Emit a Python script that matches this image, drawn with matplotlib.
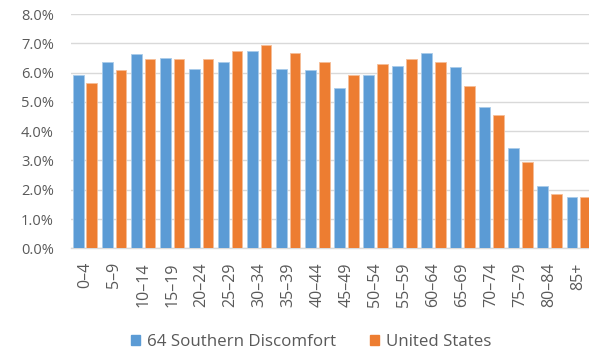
import matplotlib
matplotlib.use("Agg")
import matplotlib.pyplot as plt
import numpy as np
from matplotlib.ticker import FuncFormatter
from matplotlib.patches import Patch

categories = ["0–4", "5–9", "10–14", "15–19", "20–24", "25–29", "30–34", "35–39",
              "40–44", "45–49", "50–54", "55–59", "60–64", "65–69", "70–74",
              "75–79", "80–84", "85+"]
southern = [5.91, 6.35, 6.62, 6.51, 6.12, 6.35, 6.73, 6.12, 6.08, 5.47, 5.91,
            6.23, 6.67, 6.18, 4.82, 3.42, 2.13, 1.74]
usa = [5.63, 6.08, 6.45, 6.45, 6.45, 6.73, 6.94, 6.67, 6.35, 5.91, 6.29,
       6.45, 6.35, 5.53, 4.56, 2.94, 1.85, 1.74]
series_names = ["64 Southern Discomfort", "United States"]
yticks = [0, 1, 2, 3, 4, 5, 6, 7, 8]

plt.rcParams['font.family'] = ['Open Sans', 'DejaVu Sans']
blue = "#5B9BD5"
orange = "#ED7D31"
txt = "#595959"

fig = plt.figure(figsize=(5.89, 3.52), dpi=100)
W, H = 589, 352
left_px, right_px = 70.5, 70.5 + 18 * 29.04
top_px, bot_px = 14.0, 248.3
ax = fig.add_axes([left_px / W, 1 - bot_px / H, (right_px - left_px) / W, (bot_px - top_px) / H])

x = np.arange(len(categories))
bw = 0.37
ax.bar(x - 0.235, southern, bw, color=blue, edgecolor="#A9CBEA", linewidth=0.6, zorder=3)
ax.bar(x + 0.235, usa, bw, color=orange, edgecolor="#F6BE98", linewidth=0.6, zorder=3)

ax.set_xlim(-0.5, len(categories) - 0.5)
ax.set_ylim(0, 8)
ax.set_yticks(yticks)
ax.yaxis.set_major_formatter(FuncFormatter(lambda v, p: f"{v:.1f}%"))
ax.set_xticks(x)
ax.set_xticklabels(categories, rotation=90, fontsize=11.5)
ax.grid(axis='y', color="#D9D9D9", linewidth=1.0, zorder=0)
for s in ["top", "right", "left"]:
    ax.spines[s].set_visible(False)
ax.spines["bottom"].set_color("#D9D9D9")
ax.spines["bottom"].set_linewidth(1.0)
ax.tick_params(axis='both', length=0, colors=txt)
ax.tick_params(axis='y', labelsize=10.5, pad=12)
ax.tick_params(axis='x', pad=10)

handles = [Patch(color=blue, label=series_names[0]), Patch(color=orange, label=series_names[1])]
fig.legend(handles=handles, loc="center", bbox_to_anchor=(311 / W, 1 - 342 / H), ncol=2,
           frameon=False, fontsize=12.2, labelcolor=txt, handlelength=0.55, handleheight=0.55,
           handletextpad=0.4, columnspacing=2.0)

fig.savefig("out.png", dpi=100)
